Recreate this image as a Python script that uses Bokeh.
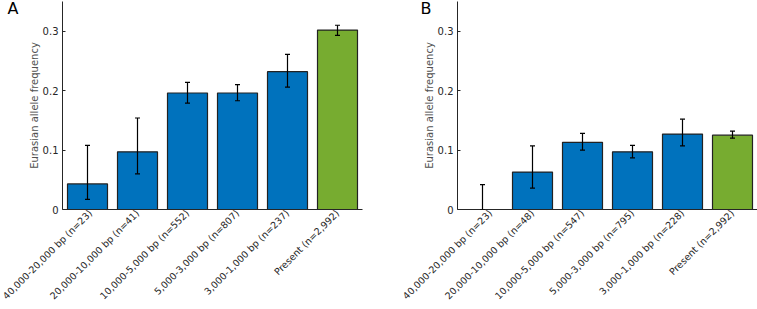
from bokeh.plotting import figure
from bokeh.layouts import row
from bokeh.models import (ColumnDataSource, Range1d, FixedTicker, NumeralTickFormatter,
                          Whisker, TeeHead, Label)
from bokeh.embed import file_html
from bokeh.resources import INLINE
import math

# ---- data ----
positions = [1, 2, 3, 4, 5, 6]
labels_a = ["40,000-20,000 bp (n=23)", "20,000-10,000 bp (n=41)", "10,000-5,000 bp (n=552)",
            "5,000-3,000 bp (n=807)", "3,000-1,000 bp (n=237)", "Present (n=2,992)"]
freq_a = [0.043, 0.097, 0.196, 0.196, 0.232, 0.302]
lower_a = [0.017, 0.060, 0.179, 0.183, 0.206, 0.293]
upper_a = [0.108, 0.154, 0.214, 0.210, 0.261, 0.310]

labels_b = ["40,000-20,000 bp (n=23)", "20,000-10,000 bp (n=48)", "10,000-5,000 bp (n=547)",
            "5,000-3,000 bp (n=795)", "3,000-1,000 bp (n=228)", "Present (n=2,992)"]
freq_b = [0.0, 0.063, 0.113, 0.097, 0.127, 0.125]
lower_b = [0.0, 0.036, 0.100, 0.087, 0.107, 0.120]
upper_b = [0.042, 0.107, 0.128, 0.108, 0.152, 0.132]

bar_colors = ["#0072BD", "#0072BD", "#0072BD", "#0072BD", "#0072BD", "#77AC30"]
y_ticks = [0, 0.1, 0.2, 0.3]

FONT = "DejaVu Sans"
DARK = "#262626"
H = 309


def make_panel(letter, labels, freq, lower, upper, width, left, frame_w, letter_dx):
    src = ColumnDataSource(dict(x=positions, top=freq, lower=lower, upper=upper, color=bar_colors))
    p = figure(width=width, height=H, output_backend="svg", toolbar_location=None,
               x_range=Range1d(0.5, 6.5), y_range=Range1d(0, 0.35),
               min_border_left=left, min_border_right=width - left - frame_w,
               min_border_top=1, min_border_bottom=100)
    p.outline_line_color = None
    p.grid.visible = False
    p.background_fill_color = "white"
    p.border_fill_color = "white"

    p.vbar(x="x", top="top", width=0.8, bottom=0, source=src, fill_color="color",
           line_color="#222222", line_width=1.2)

    w = Whisker(base="x", upper="upper", lower="lower", source=src, level="overlay",
                line_color="black", line_width=1.2,
                upper_head=TeeHead(size=5, line_color="black", line_width=1.2),
                lower_head=TeeHead(size=5, line_color="black", line_width=1.2))
    p.add_layout(w)

    # x axis
    xa = p.xaxis[0]
    xa.axis_label = None
    xa.ticker = FixedTicker(ticks=positions)
    xa.major_label_overrides = {pos: lab for pos, lab in zip(positions, labels)}
    xa.major_label_orientation = math.pi / 4
    xa.major_tick_line_color = None
    xa.major_tick_in = 0
    xa.major_tick_out = 0
    xa.minor_tick_line_color = None
    xa.axis_line_color = DARK
    xa.axis_line_width = 1
    xa.major_label_text_font = FONT
    xa.major_label_text_font_size = "9.5px"
    xa.major_label_text_color = DARK
    xa.major_label_standoff = 2

    # y axis
    ya = p.yaxis[0]
    ya.ticker = FixedTicker(ticks=y_ticks)
    ya.formatter = NumeralTickFormatter(format="0.[0]")
    ya.major_tick_in = 3
    ya.major_tick_out = 0
    ya.minor_tick_line_color = None
    ya.axis_line_color = DARK
    ya.major_tick_line_color = DARK
    ya.major_label_text_font = FONT
    ya.major_label_text_font_size = "10px"
    ya.major_label_text_color = DARK
    ya.major_label_standoff = 4
    ya.axis_label = "Eurasian allele frequency"
    ya.axis_label_text_font = FONT
    ya.axis_label_text_font_size = "10px"
    ya.axis_label_text_font_style = "normal"
    ya.axis_label_text_color = "#505050"
    ya.axis_label_standoff = 0

    # panel letter, placed in the left side panel
    p.add_layout(Label(x=letter_dx, y=211, x_units="screen", y_units="screen", text=letter,
                       text_font=FONT, text_font_size="16px", text_color="black",
                       text_baseline="top", text_align="left"), "left")
    return p


pa = make_panel("A", labels_a, freq_a, lower_a, upper_a, width=400, left=62, frame_w=300,
                letter_dx=-7)
pb = make_panel("B", labels_b, freq_b, lower_b, upper_b, width=357, left=57, frame_w=300,
                letter_dx=11)

layout = row(pa, pb, spacing=0)
open("out.html", "w").write(file_html(layout, INLINE))
